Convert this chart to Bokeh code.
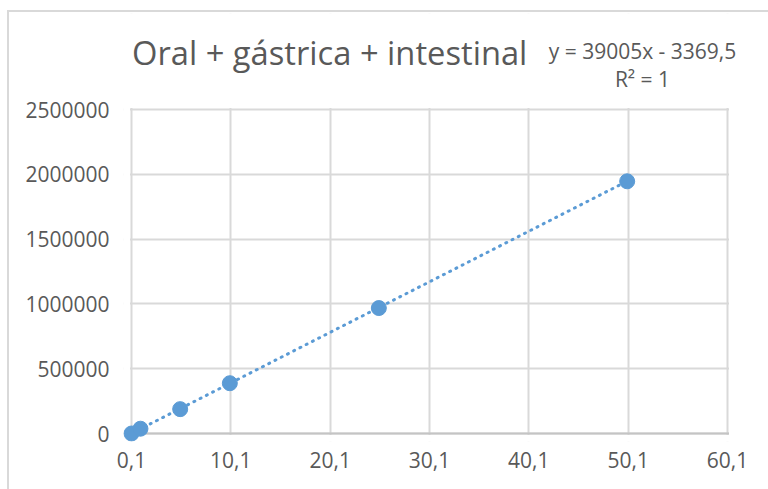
from bokeh.plotting import figure
from bokeh.models import (FixedTicker, CustomJSTickFormatter, NumeralTickFormatter,
                          Range1d, Label, BoxAnnotation, Span, ColumnDataSource)
from bokeh.embed import file_html
from bokeh.resources import INLINE

# ---- data ----
conc = [0.1, 1, 5, 10, 25, 50]
signal = [0, 37000, 188000, 388000, 968000, 1946000]
slope = 39005
intercept = -3369.5
title_text = "Oral + gástrica + intestinal"
eq_text = "y = 39005x - 3369,5"
r2_text = "R² = 1"
x_ticks = [0.1, 10.1, 20.1, 30.1, 40.1, 50.1, 60.1]
y_ticks = [0, 500000, 1000000, 1500000, 2000000, 2500000]

BLUE = "#5B9BD5"
GRID = "#d9d9d9"
TXT = "#595959"
FONT = "Open Sans"

W, H = 768, 489
# plot area in pixels: x 0.1..60.1 -> 131..727, y 0..2.5M -> 433..109
PX_L, PX_R, PX_T, PX_B = 131, 727, 109, 433
# frame (drawing region) in pixels: a bit larger so markers and labels are not clipped
FR_L, FR_R, FR_T, FR_B = 123, W, 13, 441

xmin, xmax = x_ticks[0], x_ticks[-1]
ymin, ymax = y_ticks[0], y_ticks[-1]
kx = (PX_R - PX_L) / (xmax - xmin)   # px per x unit
ky = (PX_B - PX_T) / (ymax - ymin)   # px per y unit

def dx(px):
    return xmin + (px - PX_L) / kx

def dy(py):
    return ymin + (PX_B - py) / ky

p = figure(width=W, height=H, output_backend="svg", toolbar_location=None,
           x_range=Range1d(dx(FR_L), dx(FR_R)), y_range=Range1d(dy(FR_B), dy(FR_T)),
           min_border_left=FR_L, min_border_right=W - FR_R, min_border_top=FR_T,
           min_border_bottom=H - FR_B)
p.background_fill_color = None
p.border_fill_color = None
p.outline_line_color = None
# page background with the chart-area border (left and top edges)
p.styles = {"background": (
    "linear-gradient(#d9d9d9, #d9d9d9) 7px 10px / 2px calc(100% - 10px) no-repeat, "
    "linear-gradient(#d9d9d9, #d9d9d9) 7px 10px / calc(100% - 7px) 2px no-repeat, "
    "#ffffff")}

p.xgrid.grid_line_color = GRID
p.ygrid.grid_line_color = GRID
p.xgrid.grid_line_width = 2
p.ygrid.grid_line_width = 2

# horizontal axis line at y = 0
p.add_layout(Span(location=ymin, dimension="width", line_color="#c4c4c4", line_width=2,
                  level="underlay"))

# mask everything outside the plot area (grid stubs, axis line ends)
e = 1.5
for kw in (dict(right=dx(PX_L - e)), dict(left=dx(PX_R + e)),
           dict(top=dy(PX_B + e)), dict(bottom=dy(PX_T - e))):
    box = dict(left=-1e3, right=1e3, bottom=-1e9, top=1e9)
    box.update(kw)
    p.add_layout(BoxAnnotation(**box, fill_color="white", fill_alpha=1.0,
                               line_color=None, level="underlay"))

# trendline from the displayed equation
tx = [min(conc), max(conc)]
ty = [slope * v + intercept for v in tx]
p.line(tx, ty, line_color=BLUE, line_width=3, line_dash="1 6", line_cap="round")

src = ColumnDataSource(dict(x=conc, y=signal))
p.scatter("x", "y", source=src, size=15, fill_color=BLUE, line_color=BLUE)

# axes
p.xaxis.ticker = FixedTicker(ticks=x_ticks)
p.xaxis.formatter = CustomJSTickFormatter(code="return tick.toFixed(1).replace('.', ',');")
p.yaxis.ticker = FixedTicker(ticks=y_ticks)
p.yaxis.formatter = NumeralTickFormatter(format="0")
for ax in (p.xaxis, p.yaxis):
    ax.major_tick_out = 0
    ax.major_tick_in = 0
    ax.minor_tick_out = 0
    ax.minor_tick_in = 0
    ax.axis_line_color = None
    ax.major_label_text_font = FONT
    ax.major_label_text_font_size = "21px"
    ax.major_label_text_color = TXT
p.yaxis.major_label_standoff = 14
p.xaxis.major_label_standoff = 10

# title and trendline label
p.add_layout(Label(x=dx(131.5), y=dy(51.5), text=title_text, text_font=FONT,
                   text_font_size="32.7px", text_color=TXT, text_baseline="middle"))
p.add_layout(Label(x=dx(642), y=dy(50), text=eq_text, text_font=FONT,
                   text_font_size="21px", text_color=TXT, text_align="center",
                   text_baseline="middle"))
p.add_layout(Label(x=dx(642), y=dy(78), text=r2_text, text_font=FONT,
                   text_font_size="21px", text_color=TXT, text_align="center",
                   text_baseline="middle"))

open("out.html", "w").write(file_html(p, INLINE))
